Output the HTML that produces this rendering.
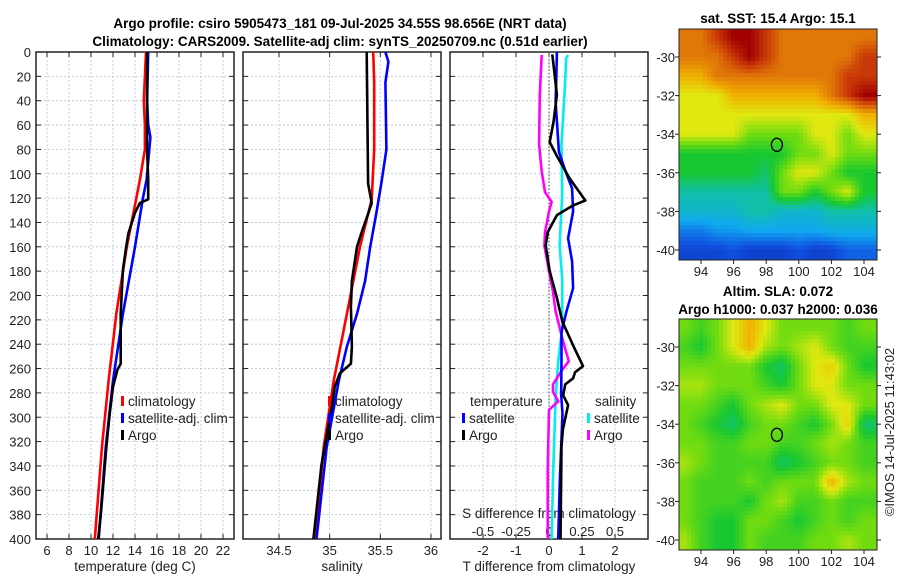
<!DOCTYPE html>
<html><head><meta charset="utf-8"><style>
body{margin:0;background:#fff;}
svg{display:block;font-family:"Liberation Sans","DejaVu Sans",sans-serif;}
</style></head><body>
<svg id="s" width="900" height="580" xmlns="http://www.w3.org/2000/svg">
<text x="340" y="28" text-anchor="middle" font-size="13.5" font-weight="bold">Argo profile: csiro 5905473_181 09-Jul-2025 34.55S 98.656E (NRT data)</text>
<text x="340" y="46" text-anchor="middle" font-size="13.5" font-weight="bold">Climatology: CARS2009. Satellite-adj clim: synTS_20250709.nc (0.51d earlier)</text>
<text x="778" y="23" text-anchor="middle" font-size="13.5" font-weight="bold">sat. SST: 15.4 Argo: 15.1</text>
<text x="778" y="296" text-anchor="middle" font-size="13.5" font-weight="bold">Altim. SLA: 0.072</text>
<text x="778" y="314" text-anchor="middle" font-size="13.5" font-weight="bold">Argo h1000: 0.037 h2000: 0.036</text>
<text transform="translate(894,432) rotate(-90)" text-anchor="middle" font-size="13" fill="#222">©IMOS 14-Jul-2025 11:43:02</text>
</svg>
<script>
// ---- data ----
const climTD = [0,40,60,80,105,121,160,215,270,324,400];
const climT  = [15.0,14.8,14.9,14.9,14.45,14.1,13.25,12.3,11.6,11.0,10.35];
const satTD  = [0,40,60,70,105,121,160,215,270,324,400];
const satT   = [15.2,15.1,15.2,15.4,15.05,14.7,14.0,12.9,12.0,11.35,10.7];
const argoTD = [0,40,60,80,105,121,124,132,149,160,179,215,256,261,275,297,324,379,400];
const argoT  = [15.1,15.1,15.1,15.1,15.2,15.2,14.45,14.0,13.4,13.2,12.9,12.7,12.7,12.4,12.0,11.7,11.4,10.9,10.65];
const climSD = [0,25,80,121,160,215,270,325,400];
const climS  = [35.43,35.44,35.44,35.415,35.3,35.17,35.04,34.94,34.855];
const satSD  = [0,8,25,80,108,133,160,188,215,242,270,325,400];
const satS   = [35.55,35.58,35.55,35.56,35.51,35.46,35.4,35.35,35.27,35.17,35.09,34.97,34.87];
const argoSD = [0,108,124,133,147,160,188,209,242,256,264,275,292,339,400];
const argoS  = [35.366,35.38,35.415,35.38,35.32,35.27,35.22,35.21,35.22,35.21,35.1,35.05,35.02,34.92,34.84];
const dArgoTD = [2,35,57,74,85,104,122,126,134,148,159,180,202,221,241,258,263,268,273,282,290,310,324,400];
const dArgoT  = [0.1,0.24,0.14,0.02,0.23,0.63,1.1,0.73,0.24,-0.04,-0.1,0.02,0.24,0.4,0.73,1.03,0.79,0.73,0.49,0.43,0.58,0.42,0.38,0.35];
const dSatTD = [0,22,41,57,82,98,112,131,153,172,194,213,230,252,282,297,350,400];
const dSatT  = [0.24,0.22,0.2,0.24,0.3,0.5,0.7,0.73,0.58,0.7,0.73,0.53,0.38,0.38,0.37,0.41,0.33,0.28];
const dSatSD = [2.5,5,30,76,117,159,186,227,254,284,350,400];
const dSatS  = [0.145,0.13,0.12,0.095,0.1,0.08,0.1,0.1,0.07,0.05,0.03,0.02];
const dArgoSD = [2.5,35,76,98,115,123,131,148,159,180,197,213,235,254,261,273,279,287,294,320,345,400];
const dArgoS  = [-0.055,-0.07,-0.075,-0.055,-0.03,0.02,0,-0.03,-0.035,0,0.03,0.05,0.1,0.15,0.1,0.03,0.03,0.07,0,-0.005,-0.01,-0.01];
const tTicks = [6,8,10,12,14,16,18,20,22];
const sTicks = [34.5,35,35.5,36];
const dTTicks = [-2,-1,0,1,2];
const dSTicks = ["-0.5","-0.25","0","0.25","0.5"];
const depthTicks = [0,20,40,60,80,100,120,140,160,180,200,220,240,260,280,300,320,340,360,380,400];
const lonTicks = [94,96,98,100,102,104];
const latTicks = [-30,-32,-34,-36,-38,-40];
const sstGrid = [
[8,8,9,10,10,9,8,8,8,8,8,8],
[8,8,8,9,10,9,8,8,8,8,8,9],
[7,7,8,8,8,8,8,8,8,8,9,9],
[6,6,6,7,7,7,7,7,7,8,9,10],
[6,6,6,6,6,6,6,6,6,6,6,7],
[6,6,6,6,5,5,5,5,6,6,5,6],
[4,4,4,4,4,4,4,5,5,6,5,5],
[4,4,4,4,4,3.5,5,6,6,5,4,4],
[3,3,3,3,3,3,5,5,4,5,6,4],
[2.5,2.5,2.5,2.5,3,3,2.5,2.5,2.5,3,3,3],
[1.5,1.5,1.8,1.8,2,2,2,2,2,2.2,2.2,2.2],
[0.8,0.8,0.8,1,0.7,0.7,0.7,1,0.7,0.8,1.2,1.2]];
const slaGrid = [
[5,4.5,5,6,7,6,5,5,5,5,4.5,5],
[4.5,4,5,6,7,5.5,5,5.5,6,5,4.5,4.5],
[5,5,5,5,5,4,3.5,5,6,6.5,5,4],
[5.5,5.5,5,5,5,4.5,4,5,6,6,5,5],
[5,5,4.5,4,5,5.5,6,5,5,6,6,5],
[5,4.5,4,3.5,4.5,5,5,4.5,4,5,6.5,3.5],
[5,5,4.5,4.5,5,5,4.5,4.5,5,5.5,5,4.5],
[5.5,5,4.5,4.5,4.5,4.5,3.5,4,4.5,5,5,4.5],
[5,4.5,4.5,4.5,5,4.5,5,5,5,7,5.5,5],
[5,4.5,4.5,4.5,4,5,5.5,4.5,4.5,5,4.5,4.5],
[5,4.5,4,4,5,5,4.5,4,4.5,5,4.5,5],
[5.5,4.5,4,4,5,4.5,4.5,4.5,5,5,5.5,5]];
const argoLon = 98.656, argoLat = -34.55;

// ---- helpers ----
const svg = document.getElementById('s');
const NS = 'http://www.w3.org/2000/svg';
function mk(tag, attrs, parent){const e=document.createElementNS(NS,tag);for(const k in attrs)e.setAttribute(k,attrs[k]);(parent||svg).appendChild(e);return e;}
const Y0=52, Y1=539;
const yD = d => Y0 + d*(Y1-Y0)/400;
const P1={x0:36,x1:234,v0:5,v1:23};
const P2={x0:243,x1:441,v0:34.5-36/101.3,v1:34.5+(441-279)/101.3};
const P3={x0:450,x1:648,v0:-3,v1:3};
const xS = (p,v) => p.x0 + (v-p.v0)*(p.x1-p.x0)/(p.v1-p.v0);
const xDS = s => xS(P3, s*4);

function panel(p, xt, name){
  const g = mk('g',{});  
  xt.forEach(v=>{const x=xS(p,v);
    const l=mk('line',{x1:x,x2:x,y1:Y0,y2:Y1,stroke:'#b8c0dc','stroke-width':0.8,'stroke-dasharray':'2,2'},g);
     
    mk('line',{x1:x,x2:x,y1:Y1,y2:Y1-5,stroke:'#222'},g);mk('line',{x1:x,x2:x,y1:Y0,y2:Y0+5,stroke:'#222'},g);});
  depthTicks.forEach(d=>{const y=yD(d);
    const l=mk('line',{x1:p.x0,x2:p.x1,y1:y,y2:y,stroke:'#b8c0dc','stroke-width':0.8,'stroke-dasharray':'2,2'},g);
     
    mk('line',{x1:p.x0,x2:p.x0+5,y1:y,y2:y,stroke:'#222'},g);mk('line',{x1:p.x1,x2:p.x1-5,y1:y,y2:y,stroke:'#222'},g);});
  const f=mk('rect',{x:p.x0,y:Y0,width:p.x1-p.x0,height:Y1-Y0,fill:'none',stroke:'#222','stroke-width':1.5},g);
   
  return g;
}
function line(p, vals, ds, color, name, xf){
  const pts = vals.map((v,i)=>(xf?xf(v):xS(p,v)).toFixed(1)+','+yD(ds[i]).toFixed(1)).join(' ');
  const e = mk('polyline',{points:pts,fill:'none',stroke:color,'stroke-width':2.6,'stroke-linejoin':'round'});
   
}
function txt(x,y,s,attrs,name){const e=mk('text',Object.assign({x:x,y:y,'font-size':13,fill:'#222'},attrs||{}));e.textContent=s;
   return e;}

panel(P1,tTicks,'temperature-panel');
panel(P2,sTicks,'salinity-panel');
panel(P3,dTTicks,'difference-panel');
const z=mk('line',{x1:xS(P3,0),x2:xS(P3,0),y1:Y0,y2:Y1,stroke:'#444','stroke-width':1,'stroke-dasharray':'1.5,2'});
 

depthTicks.forEach(d=>txt(31,yD(d)+5,String(d),{'text-anchor':'end'},'depth-tick-label'));
tTicks.forEach(v=>txt(xS(P1,v),555,String(v),{'text-anchor':'middle'},'temperature-tick-label'));
sTicks.forEach(v=>txt(xS(P2,v),555,String(v),{'text-anchor':'middle'},'salinity-tick-label'));
dTTicks.forEach(v=>txt(xS(P3,v),555,String(v),{'text-anchor':'middle'},'t-diff-tick-label'));
dSTicks.forEach(v=>txt(xDS(parseFloat(v)),536,v,{'text-anchor':'middle'},'s-diff-tick-label'));
txt(135,571,'temperature (deg C)',{'text-anchor':'middle','font-size':13.5},'temperature-axis-title');
txt(342,571,'salinity',{'text-anchor':'middle','font-size':13.5},'salinity-axis-title');
txt(549,571,'T difference from climatology',{'text-anchor':'middle','font-size':13.5},'t-diff-axis-title');
txt(549,518,'S difference from climatology',{'text-anchor':'middle','font-size':13.5},'s-diff-axis-title');

line(P1,climT,climTD,'#ff0000','temperature-climatology-line');
line(P1,satT,satTD,'#0000ff','temperature-satellite-line');
line(P1,argoT,argoTD,'#000000','temperature-argo-line');
line(P2,climS,climSD,'#ff0000','salinity-climatology-line');
line(P2,satS,satSD,'#0000ff','salinity-satellite-line');
line(P2,argoS,argoSD,'#000000','salinity-argo-line');
line(P3,dSatS,dSatSD,'#00eeee','s-diff-satellite-line',xDS);
line(P3,dArgoS,dArgoSD,'#ff00ff','s-diff-argo-line',xDS);
line(P3,dSatT,dSatTD,'#0000ff','t-diff-satellite-line');
line(P3,dArgoT,dArgoTD,'#000000','t-diff-argo-line');

function leg(x,y,color,label,name){
  const m=mk('rect',{x:x,y:y-10,width:3,height:10,fill:color});
   
  txt(x+7,y,label,{'font-size':13.5},name);
}
leg(121,406,'#ff0000','climatology','legend-climatology');
leg(121,423,'#0000ff','satellite-adj. clim','legend-satellite');
leg(121,440,'#000000','Argo','legend-argo');
leg(328,406,'#ff0000','climatology','legend-s-climatology');
leg(328,423,'#0000ff','satellite-adj. clim','legend-s-satellite');
leg(328,440,'#000000','Argo','legend-s-argo');
txt(470,406,'temperature',{'font-size':13.5},'legend-temperature-header');
leg(462,423,'#0000ff','satellite','legend-t-satellite');
leg(462,440,'#000000','Argo','legend-t-argo');
txt(595,406,'salinity',{'font-size':13.5},'legend-salinity-header');
leg(587,423,'#00eeee','satellite','legend-s-sat-diff');
leg(587,440,'#ff00ff','Argo','legend-s-argo-diff');

const stops=[[8,32,154],[16,80,224],[16,168,240],[16,192,168],[24,200,48],[112,220,16],[224,232,16],[240,176,0],[224,120,8],[200,56,8],[160,0,0]];
function cmap(v){v=Math.max(0,Math.min(10,v));const i=Math.min(9,Math.floor(v)),f=v-i;const a=stops[i],b=stops[i+1];
  return 'rgb('+a.map((c,k)=>Math.round(c+(b[k]-c)*f)).join(',')+')';}
function sample(grid,lon,lat){
  let c=lon-93, r=-29-lat; c=Math.max(0,Math.min(11,c)); r=Math.max(0,Math.min(11,r));
  const c0=Math.min(10,Math.floor(c)), r0=Math.min(10,Math.floor(r)), fc=c-c0, fr=r-r0;
  return grid[r0][c0]*(1-fc)*(1-fr)+grid[r0][c0+1]*fc*(1-fr)+grid[r0+1][c0]*(1-fc)*fr+grid[r0+1][c0+1]*fc*fr;
}
function map(grid, top, bottom, lat30y, name){
  const L=679,R=877;
  const xL = lon => 701 + (lon-94)*16.3;
  const yL = lat => lat30y + (-30-lat)*19.3;
  const g=mk('g',{});  
  const step=4;
  for(let y=top;y<bottom;y+=step){for(let x=L;x<R;x+=step){
    const lon=94+(x+step/2-701)/16.3, lat=-30-(y+step/2-lat30y)/19.3;
    mk('rect',{x:x,y:y,width:Math.min(step,R-x)+0.3,height:Math.min(step,bottom-y)+0.3,fill:cmap(sample(grid,lon,lat))},g);
  }}
  mk('rect',{x:L,y:top,width:R-L,height:bottom-top,fill:'none',stroke:'#222','stroke-width':1},g);
  lonTicks.forEach(v=>{const x=xL(v);mk('line',{x1:x,x2:x,y1:bottom,y2:bottom+4,stroke:'#222'},g);
    txt(x,bottom+16,String(v),{'text-anchor':'middle'},'lon-tick-label');});
  latTicks.forEach(v=>{const y=yL(v);mk('line',{x1:L,x2:L-4,y1:y,y2:y,stroke:'#222'},g);mk('line',{x1:R,x2:R+4,y1:y,y2:y,stroke:'#222'},g);
    txt(675,y+5,String(v),{'text-anchor':'end'},'lat-tick-label');});
  const c=mk('ellipse',{cx:xL(argoLon),cy:yL(argoLat),rx:5.5,ry:6.5,fill:'none',stroke:'#000','stroke-width':1.3},g);
   
}
map(sstGrid,29,260,57,'sst-map');
map(slaGrid,319,550,347,'sla-map');
</script>
</body></html>
